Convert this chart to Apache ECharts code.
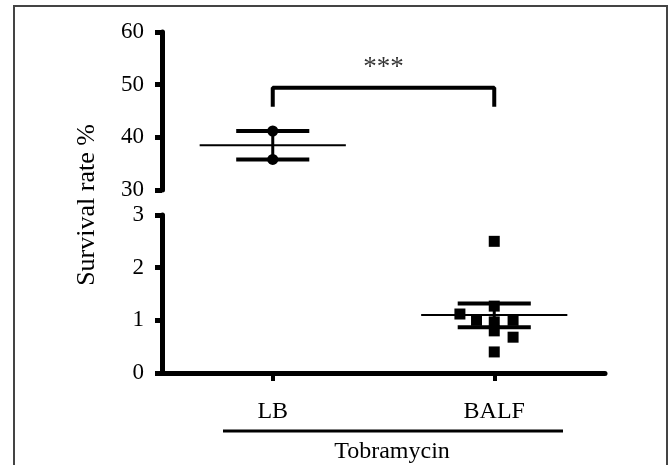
<!DOCTYPE html>
<html><head><meta charset="utf-8">
<script src="https://cdn.jsdelivr.net/npm/echarts@6/dist/echarts.min.js"></script>
<style>html,body{margin:0;padding:0;background:#fff}#c{width:669px;height:465px}</style>
</head><body><div id="c"></div>
<script>
// ---- data ----
const categories = ['LB', 'BALF'];
const groupLabel = 'Tobramycin';
const yName = 'Survival rate %';
const topTicks = [30, 40, 50, 60];
const bottomTicks = [0, 1, 2, 3];
const lbValues = [41.2, 35.8];
const lbJitter = [0, 0];
const balfValues = [2.5, 1.27, 1.12, 1.0, 0.97, 1.0, 0.8, 0.68, 0.4];
const balfJitter = [0, 0, -0.155, -0.08, 0, 0.085, 0, 0.085, 0];
const lbStats = [38.5, 41.2, 35.8];      // mean, upper SEM, lower SEM
const balfStats = [1.1, 1.32, 0.87];     // mean, upper SEM, lower SEM
const sigLabel = '***';
const bracketValues = [45.8, 49.4, 45.8]; // left drop, bar, right drop
const sigLabelValue = 53.2;

// ---- chart ----
const FONT = '"Liberation Serif", "Times New Roman", serif';
const catX = [0.5, 1.5];
const meanHalf = 0.33, semHalf = 0.165;

function seg(xi, yi, pts, w) {
  return { type: 'line', xAxisIndex: xi, yAxisIndex: yi, data: pts, symbol: 'none',
    silent: true, animation: false, lineStyle: { color: '#000', width: w, cap: 'butt', opacity: 1 }, z: 3 };
}
function statSeries(xi, yi, cx, st) {
  return [
    seg(xi, yi, [[cx - meanHalf, st[0]], [cx + meanHalf, st[0]]], 2),
    seg(xi, yi, [[cx - semHalf, st[1]], [cx + semHalf, st[1]]], 4),
    seg(xi, yi, [[cx - semHalf, st[2]], [cx + semHalf, st[2]]], 4),
    seg(xi, yi, [[cx, st[2]], [cx, st[1]]], 3)
  ];
}
function valueY(grid, ticks) {
  return {
    type: 'value', gridIndex: grid, min: ticks[0], max: ticks[ticks.length - 1],
    interval: ticks[1] - ticks[0],
    axisLine: { show: true, lineStyle: { color: '#000', width: 5 } },
    axisTick: { show: true, length: 7, lineStyle: { color: '#000', width: 5 } },
    axisLabel: { color: '#000', fontFamily: FONT, fontSize: 23, margin: 18 },
    splitLine: { show: false }
  };
}

const chart = echarts.init(document.getElementById('c'), null, { renderer: 'canvas' });
chart.setOption({
  animation: false,
  backgroundColor: '#fff',
  grid: [
    { left: 162, right: 64, top: 32, height: 158 },
    { left: 162, right: 64, top: 215, height: 158 }
  ],
  xAxis: [
    { type: 'value', gridIndex: 0, min: 0, max: 2, show: false },
    { type: 'value', gridIndex: 1, min: 0, max: 2, show: false },
    { type: 'category', gridIndex: 1, data: categories, position: 'bottom',
      axisLine: { show: true, lineStyle: { color: '#000', width: 5 } },
      axisTick: { show: true, alignWithLabel: true, length: 8, lineStyle: { color: '#000', width: 4 } },
      axisLabel: { color: '#000', fontFamily: FONT, fontSize: 24, margin: 27 },
      splitLine: { show: false } }
  ],
  yAxis: [valueY(0, topTicks), valueY(1, bottomTicks)],
  graphic: [
    { type: 'rect', shape: { x: 14, y: 6, width: 653, height: 470 },
      style: { fill: 'none', stroke: '#444', lineWidth: 2 }, silent: true },
    { type: 'text', x: 87, y: 205, rotation: Math.PI / 2,
      style: { text: yName, font: '26px ' + FONT, fill: '#000', align: 'center', verticalAlign: 'middle' } },
    { type: 'line', shape: { x1: 223, y1: 431, x2: 563, y2: 431 }, style: { stroke: '#000', lineWidth: 3 } },
    { type: 'text', x: 392, y: 452,
      style: { text: groupLabel, font: '24px ' + FONT, fill: '#000', align: 'center', verticalAlign: 'middle' } }
  ],
  series: [
    { type: 'scatter', xAxisIndex: 0, yAxisIndex: 0, symbol: 'circle', symbolSize: 11,
      itemStyle: { color: '#000', opacity: 1 }, z: 4,
      data: lbValues.map((v, i) => [catX[0] + lbJitter[i], v]) },
    ...statSeries(0, 0, catX[0], lbStats),
    { type: 'scatter', xAxisIndex: 1, yAxisIndex: 1, symbol: 'rect', symbolSize: 11,
      itemStyle: { color: '#000', opacity: 1 }, z: 4,
      data: balfValues.map((v, i) => [catX[1] + balfJitter[i], v]) },
    ...statSeries(1, 1, catX[1], balfStats),
    seg(0, 0, [[catX[0], bracketValues[0]], [catX[0], bracketValues[1]], [catX[1], bracketValues[1]], [catX[1], bracketValues[2]]], 4),
    { type: 'scatter', xAxisIndex: 0, yAxisIndex: 0, symbolSize: 0, silent: true,
      data: [[(catX[0] + catX[1]) / 2, sigLabelValue]],
      label: { show: true, position: 'inside', formatter: sigLabel, color: '#000',
        fontFamily: FONT, fontSize: 27 } }
  ]
});
</script>
</body></html>
